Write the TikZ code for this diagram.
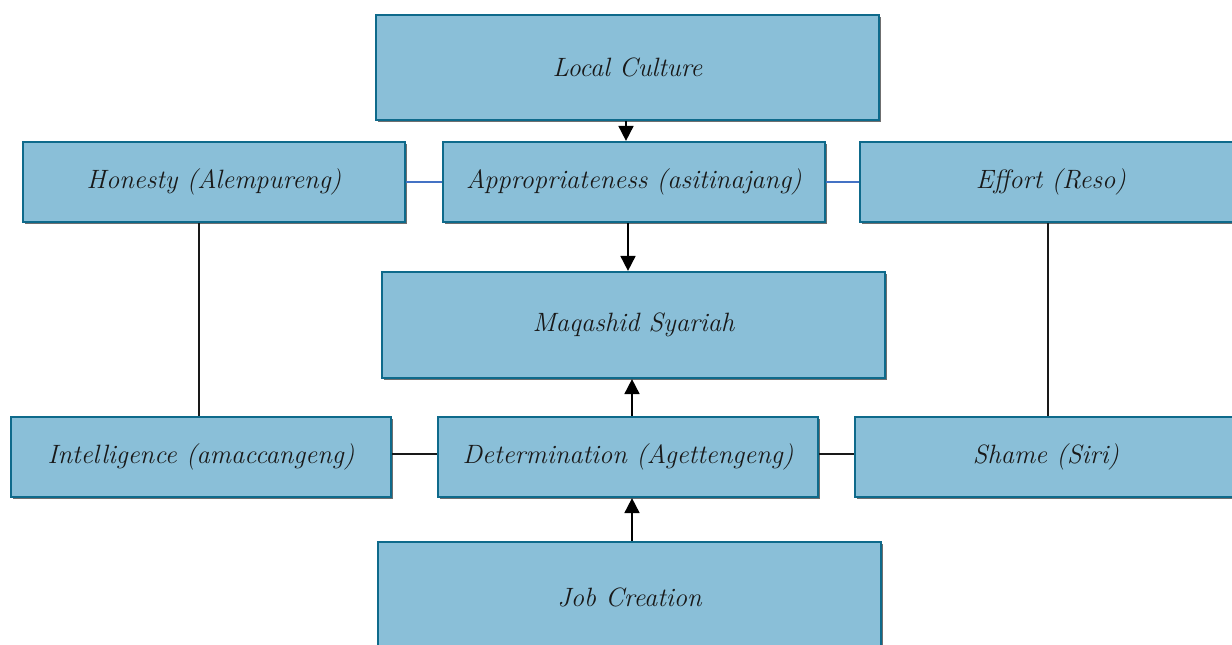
\documentclass[tikz,border=0pt]{standalone}
\usetikzlibrary{arrows.meta,shadows}
\definecolor{boxfill}{HTML}{8ABFD8}
\definecolor{boxline}{HTML}{0E6A8B}
\definecolor{linkblue}{HTML}{4472C4}
\begin{document}
\begin{tikzpicture}[x=1pt,y=-1pt,
  box/.style={draw=boxline, line width=2.2pt, fill=boxfill, rectangle,
    drop shadow={shadow xshift=1.5pt, shadow yshift=-1.5pt, fill=black!70, opacity=0.8},
    font=\fontsize{26.5}{30}\selectfont\itshape, text=black!90, inner sep=0pt},
  arr/.style={line width=1.8pt, -{Triangle[length=15pt,width=15pt]}},
  plain/.style={line width=1.8pt, black!90},
  thin/.style={line width=1.2pt, linkblue}]
\clip (0,0) rectangle (1232,645);
\fill[white] (0,0) rectangle (1232,645);
\node[box, minimum width=503pt, minimum height=105pt] (lc) at (627.5,67.5) {Local Culture};
\node[box, minimum width=382pt, minimum height=80pt] (hon) at (214,182) {Honesty (Alempureng)};
\node[box, minimum width=382pt, minimum height=80pt] (app) at (634,182) {Appropriateness (asitinajang)};
\node[box, minimum width=382pt, minimum height=80pt] (eff) at (1051,182) {Effort (Reso)};
\node[box, minimum width=503pt, minimum height=106pt] (maq) at (633.5,325) {Maqashid Syariah};
\node[box, minimum width=380pt, minimum height=80pt] (int) at (201,457) {Intelligence (amaccangeng)};
\node[box, minimum width=380pt, minimum height=80pt] (det) at (628,457) {Determination (Agettengeng)};
\node[box, minimum width=382pt, minimum height=80pt] (sha) at (1046,457) {Shame (Siri)};
\node[box, minimum width=503pt, minimum height=110pt] (job) at (629.5,597) {Job Creation};
% connectors
\draw[arr] ([xshift=-1.5pt]lc.south) -- ([xshift=-1.5pt]lc.south |- app.north);
\draw[arr] ([xshift=-6pt]app.south) -- ([xshift=-6pt]app.south |- maq.north);
\draw[arr] ([xshift=4pt]det.north) -- ([xshift=4pt]det.north |- maq.south);
\draw[arr] ([xshift=2.5pt]job.north) -- ([xshift=2.5pt]job.north |- det.south);
\draw[thin] (hon.east) -- (app.west);
\draw[thin] (app.east) -- (eff.west);
\draw[plain] ([xshift=-15pt]hon.south) -- ([xshift=-15pt]hon.south |- int.north);
\draw[plain] ([xshift=-3pt]eff.south) -- ([xshift=-3pt]eff.south |- sha.north);
\draw[plain] ([yshift=3pt]int.east) -- ([yshift=3pt]det.west);
\draw[plain] ([yshift=3pt]det.east) -- ([yshift=3pt]sha.west);
\end{tikzpicture}
\end{document}
